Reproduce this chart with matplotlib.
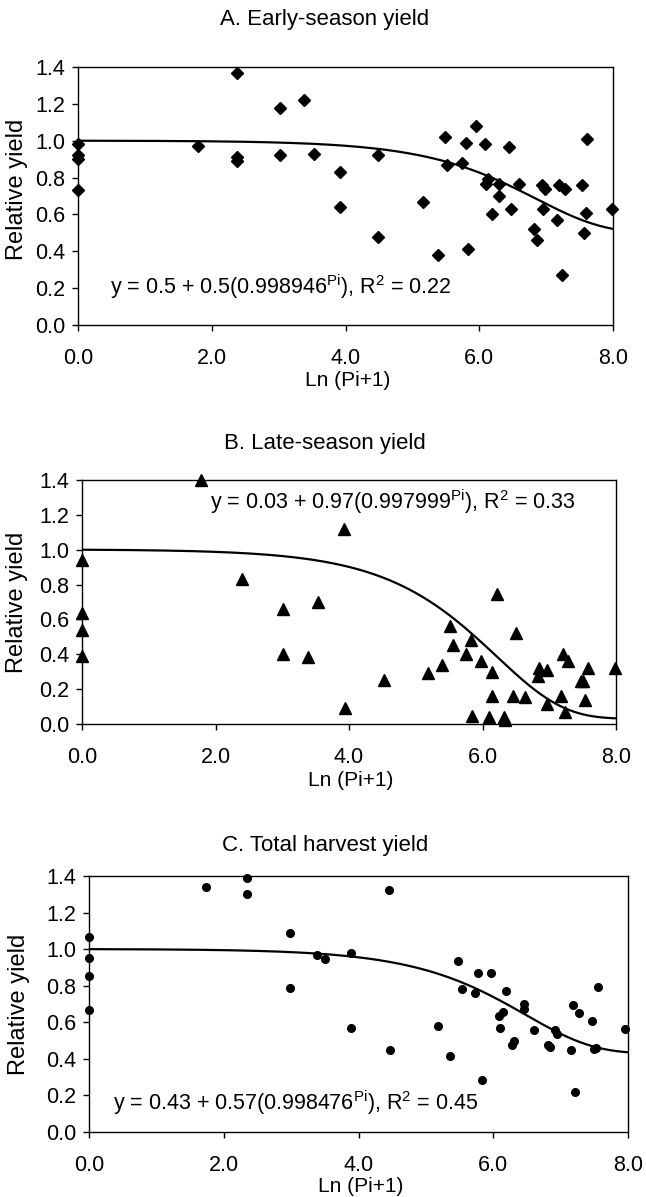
import numpy as np
import matplotlib
matplotlib.use("Agg")
import matplotlib.pyplot as plt

plt.rcParams['font.family'] = ['Liberation Sans', 'DejaVu Sans']
plt.rcParams['mathtext.fontset'] = 'custom'
plt.rcParams['mathtext.rm'] = 'Liberation Sans'
plt.rcParams['mathtext.it'] = 'Liberation Sans'

# ---------------- data ----------------
titles = ["A. Early-season yield", "B. Late-season yield", "C. Total harvest yield"]
xticks = [0.0, 2.0, 4.0, 6.0, 8.0]
yticks = [0.0, 0.2, 0.4, 0.6, 0.8, 1.0, 1.2, 1.4]

a_x = [0.0, 0.0, 0.0, 0.0, 1.79, 2.38, 2.38, 2.38, 3.02, 3.02, 3.38, 3.53,
       3.92, 3.92, 4.49, 4.49, 5.16, 5.38, 5.49, 5.52, 5.74, 5.80, 5.83, 5.95,
       6.08, 6.13, 6.10, 6.19, 6.29, 6.29, 6.45, 6.47, 6.59, 6.82, 6.86, 6.94,
       6.98, 6.95, 7.16, 7.19, 7.28, 7.24, 7.53, 7.56, 7.61, 7.60, 7.98]
a_y = [0.98, 0.92, 0.90, 0.73, 0.97, 1.37, 0.91, 0.89, 1.18, 0.92, 1.22, 0.93,
       0.83, 0.64, 0.92, 0.48, 0.67, 0.38, 1.02, 0.87, 0.88, 0.99, 0.41, 1.08,
       0.98, 0.79, 0.765, 0.60, 0.765, 0.70, 0.965, 0.63, 0.765, 0.52, 0.46, 0.76,
       0.74, 0.63, 0.57, 0.76, 0.74, 0.27, 0.76, 0.50, 1.01, 0.61, 0.63]

b_x = [0.0, 0.0, 0.0, 0.0, 1.78, 2.40, 3.01, 3.01, 3.39, 3.53,
       3.93, 3.94, 4.52, 5.19, 5.40, 5.52, 5.56, 5.75, 5.83, 5.85, 5.98, 6.10,
       6.14, 6.14, 6.22, 6.32, 6.33, 6.46, 6.50, 6.63, 6.83, 6.85, 6.97, 6.97,
       7.18, 7.20, 7.28, 7.24, 7.48, 7.50, 7.54, 7.58, 7.98]
b_y = [0.94, 0.637, 0.54, 0.39, 1.40, 0.834, 0.662, 0.403, 0.384, 0.70,
       1.116, 0.092, 0.253, 0.292, 0.336, 0.56, 0.451, 0.40, 0.48, 0.048, 0.364, 0.042,
       0.297, 0.163, 0.748, 0.042, 0.023, 0.163, 0.524, 0.153, 0.278, 0.32, 0.311, 0.115,
       0.163, 0.40, 0.364, 0.067, 0.249, 0.245, 0.138, 0.32, 0.32]

c_x = [0.0, 0.0, 0.0, 0.0, 1.74, 2.34, 2.34, 2.98, 2.98, 3.38, 3.51,
       3.89, 3.89, 4.46, 4.47, 5.18, 5.36, 5.48, 5.54, 5.73, 5.78, 5.83, 5.97,
       6.09, 6.10, 6.14, 6.19, 6.28, 6.31, 6.46, 6.46, 6.61, 6.92, 6.95, 6.82,
       6.84, 7.16, 7.18, 7.22, 7.28, 7.46, 7.49, 7.53, 7.56, 7.96]
c_y = [1.064, 0.954, 0.854, 0.666, 1.341, 1.387, 1.30, 1.089, 0.788, 0.967, 0.945,
       0.98, 0.569, 1.323, 0.447, 0.58, 0.418, 0.936, 0.781, 0.761, 0.87, 0.286, 0.87,
       0.635, 0.571, 0.657, 0.772, 0.474, 0.498, 0.699, 0.67, 0.56, 0.56, 0.535, 0.474,
       0.465, 0.451, 0.693, 0.219, 0.651, 0.606, 0.453, 0.462, 0.794, 0.562]

# fitted model y = a + b * r^Pi, with Pi = exp(x) - 1
fit_a = [0.5, 0.03, 0.43]
fit_b = [0.5, 0.97, 0.57]
fit_r = [0.998946, 0.997999, 0.998476]
fit_labels = [
    r"y = 0.5 + 0.5(0.998946$^{\mathrm{Pi}}$), R$^{2}$ = 0.22",
    r"y = 0.03 + 0.97(0.997999$^{\mathrm{Pi}}$), R$^{2}$ = 0.33",
    r"y = 0.43 + 0.57(0.998476$^{\mathrm{Pi}}$), R$^{2}$ = 0.45",
]

# ---------------- layout ----------------
W, H = 646, 1197
fig = plt.figure(figsize=(W / 100, H / 100), dpi=100)


def fx(px):
    return px / W


def fy(py):
    return 1 - py / H


# axes boxes in pixels: left, right, top, bottom
boxes = [(78, 613, 67, 325), (82, 616, 480, 724), (89, 628, 876, 1132)]
markers = [dict(marker='D', ms=6.5), dict(marker='^', ms=8), dict(marker='o', ms=5.5)]
datasets = [(a_x, a_y), (b_x, b_y), (c_x, c_y)]
title_y = [20, 444, 845]
xlabel_y = [381, 781, 1187]
ylabel_xy = [(17, 189), (17.5, 602), (19.5, 1004)]
eq_xy = [(110, 287), (210, 502), (113, 1103)]

for i in range(3):
    l, r, t, b = boxes[i]
    ax = fig.add_axes([l / W, 1 - b / H, (r - l) / W, (b - t) / H])
    xs, ys = datasets[i]
    ax.plot(xs, ys, linestyle='none', color='black', clip_on=False, **markers[i])
    xx = np.linspace(0, 8, 800)
    pi = np.exp(xx) - 1
    ax.plot(xx, fit_a[i] + fit_b[i] * fit_r[i] ** pi, color='black', lw=1.6)
    ax.set_xlim(0, 8)
    ax.set_ylim(0, 1.4)
    ax.set_xticks(xticks)
    ax.set_xticklabels([f"{v:.1f}" for v in xticks])
    ax.set_yticks(yticks)
    ax.set_yticklabels([f"{v:.1f}" for v in yticks])
    ax.tick_params(axis='both', direction='out', length=4, width=1, labelsize=15.5, colors='black')
    ax.tick_params(axis='x', pad=12.5)
    ax.tick_params(axis='y', pad=5)
    for s in ax.spines.values():
        s.set_linewidth(1.0)
        s.set_color('black')
    fig.text(fx(325), fy(title_y[i]), titles[i], fontsize=16, ha='center', va='center')
    fig.text(fx((l + r) / 2 + 2), fy(xlabel_y[i]), "Ln (Pi+1)", fontsize=15, ha='center', va='center')
    fig.text(fx(ylabel_xy[i][0]), fy(ylabel_xy[i][1]), "Relative yield", fontsize=17,
             ha='center', va='center', rotation=90)
    fig.text(fx(eq_xy[i][0]), fy(eq_xy[i][1]), fit_labels[i], fontsize=15.5,
             ha='left', va='center')

fig.savefig("out.png", dpi=100)
